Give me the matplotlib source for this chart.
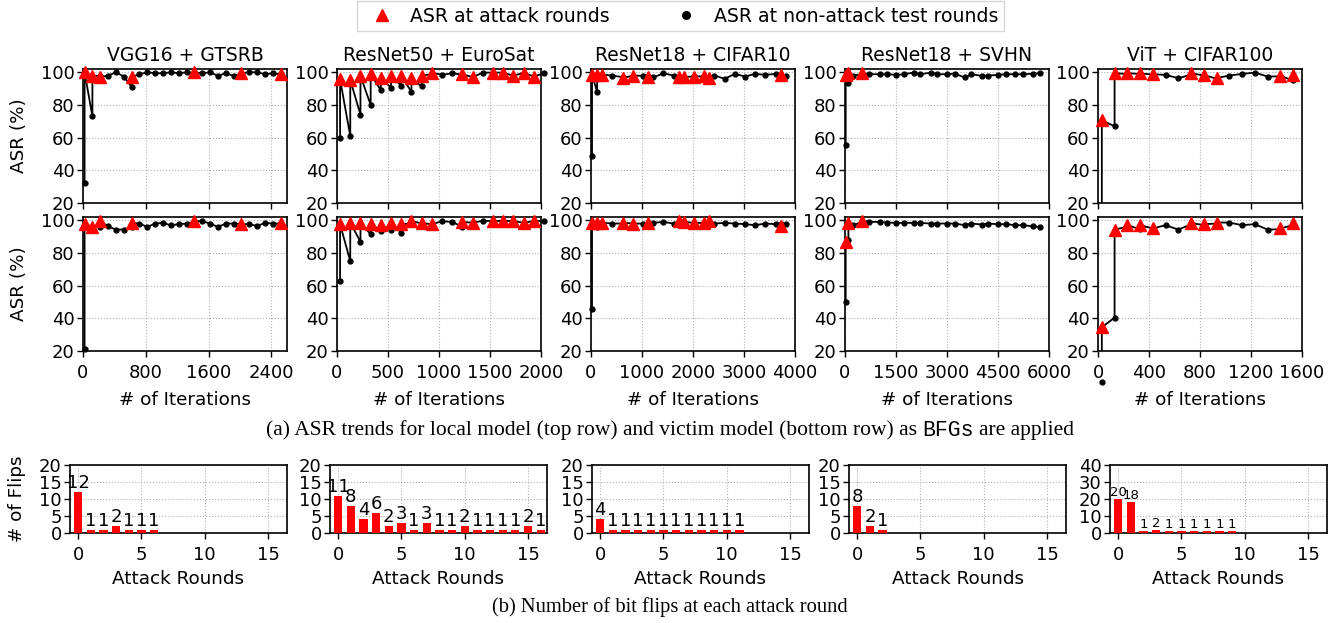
import matplotlib
matplotlib.use('Agg')
import matplotlib.pyplot as plt
from matplotlib.lines import Line2D

# ---- ASR curves (pre-attack / test-round values and post-attack values) ----
vgg_iters = [20, 120, 220, 320, 420, 520, 620, 720, 820, 920, 1020, 1120, 1220, 1320, 1420, 1520,
             1620, 1720, 1820, 1920, 2020, 2120, 2220, 2320, 2420, 2520]
vgg_local = [32, 73, 97.5, 98, 100, 97.4, 91, 98.8, 100, 99.4, 99.4, 100, 99.4, 100, 99.5, 99.4,
             100, 97.8, 99.4, 97.8, 99, 100, 100, 98.8, 99.4, 98.8]
vgg_victim = [21.2, 96, 95.9, 96.3, 94.3, 94.3, 95.9, 98, 95.9, 98, 98.4, 96.9, 97.6, 98, 99, 99.4,
              98, 95.9, 98, 98, 97.6, 97.6, 96.5, 98.4, 98, 98]
vgg_atk_iters = [20, 120, 220, 620, 1420, 2020, 2520]
vgg_atk_local = [100, 98, 97, 97, 100, 99.4, 99]
vgg_atk_victim = [97.6, 95.9, 99.4, 98.4, 99.6, 97.6, 98.4]

res50_iters = [30, 130, 230, 330, 430, 530, 630, 730, 830, 930, 1030, 1130, 1230, 1330, 1430,
               1530, 1630, 1730, 1830, 1930, 2030]
res50_local = [59.5, 61, 74, 80, 89, 90.6, 91.7, 88, 91.3, 99, 98.4, 99.4, 98.5, 97, 99.8,
               99.8, 99.8, 97.8, 99.8, 97.4, 99.4]
res50_victim = [63, 75, 86.8, 91.5, 93.5, 94.3, 92.5, 98, 98, 97.5, 99.4, 99, 95.9, 98.5, 99.6,
                99.6, 99.6, 99.6, 98.4, 99.6, 99.6]
res50_atk_iters = [30, 130, 230, 330, 430, 530, 630, 730, 830, 930, 1230, 1330, 1530, 1630, 1730,
                   1830, 1930]
res50_atk_local = [95.7, 95.3, 97.8, 98.8, 96.3, 97.8, 97.8, 96.3, 97.8, 99.8, 98.8, 97, 99.8,
                   99.8, 97.8, 99.8, 97.4]
res50_atk_victim = [97.6, 98.6, 98.4, 98, 97, 98.4, 97.6, 99.6, 98.4, 97.6, 99, 98.6, 99.6, 99.6,
                    99.6, 98.4, 99.6]

c10_iters = [20, 120, 220, 420, 620, 820, 1020, 1120, 1220, 1420, 1620, 1720, 1820, 2020, 2220,
             2320, 2420, 2620, 2820, 3020, 3220, 3420, 3620, 3720, 3820]
c10_local = [49, 88, 98, 98, 97, 98, 97.8, 97.5, 96.8, 99.4, 98, 97, 97, 97.5, 97.5,
             97, 98, 96, 99, 97.4, 99, 98.4, 99, 98.5, 98]
c10_victim = [45.7, 96, 98, 98, 98, 98, 98, 98, 98.4, 99, 98, 99, 99, 98.4, 98.4,
              99, 98, 98.4, 98, 97.6, 97, 98, 97.6, 97.6, 97.6]
c10_atk_iters = [20, 120, 220, 620, 820, 1120, 1720, 1820, 2020, 2220, 2320, 3720]
c10_atk_local = [98.5, 98.5, 98.5, 96.4, 98, 97.4, 97.4, 97, 97.4, 98, 96.4, 98.4]
c10_atk_victim = [98.5, 98.5, 98.5, 98.6, 98, 98.6, 99.6, 99, 98.4, 98.4, 99.4, 96.5]

svhn_iters = [20, 100, 230, 510, 720, 1020, 1230, 1510, 1730, 2020, 2220, 2520, 2710, 2990, 3230,
              3520, 3720, 4020, 4210, 4490, 4740, 5000, 5230, 5530, 5740]
svhn_local = [55.6, 93.7, 97.8, 99, 98.8, 98.8, 98.8, 98.4, 98.8, 99.8, 98.8, 99.8, 98.8, 98.8, 99.2,
              96.8, 98.8, 97.8, 98, 98.4, 98.8, 98.8, 98.8, 99.2, 99.4]
svhn_victim = [49.7, 88, 97, 99, 99, 99, 98.6, 98.4, 98.4, 98.4, 98.4, 98, 98, 98, 98,
               97, 98, 97.4, 98, 97.6, 97.6, 97, 97, 96.3, 95.9]
svhn_atk_iters = [20, 100, 510]
svhn_atk_local = [98.4, 99.8, 99.4]
svhn_atk_victim = [86.8, 98.4, 99.6]

vit_iters = [30, 130, 230, 330, 430, 530, 630, 730, 830, 930, 1030, 1130, 1230, 1330, 1430, 1530]
vit_local = [1, 67, 99, 99, 98.5, 98.4, 96.4, 98.5, 98, 96, 98, 99, 99.8, 97.4, 97.5, 95]
vit_victim = [1, 40.4, 96, 94.5, 95, 97, 94.3, 97.5, 97, 98, 98.6, 97, 97.6, 94.3, 94.5, 97]
vit_atk_iters = [30, 130, 230, 330, 430, 730, 830, 930, 1430, 1530]
vit_atk_local = [70.5, 99.4, 99.4, 99.4, 98.8, 99.4, 98.4, 96.4, 97.8, 98.4]
vit_atk_victim = [34.5, 94.3, 97, 97, 95, 98.4, 97.6, 98.6, 95, 98.4]

titles = ['VGG16 + GTSRB', 'ResNet50 + EuroSat', 'ResNet18 + CIFAR10', 'ResNet18 + SVHN', 'ViT + CIFAR100']
xmax = [2600, 2000, 4000, 6000, 1600]
xticks = [[0, 800, 1600, 2400], [0, 500, 1000, 1500, 2000], [0, 1000, 2000, 3000, 4000],
          [0, 1500, 3000, 4500, 6000], [0, 400, 800, 1200, 1600]]

# ---- number of bit flips per attack round ----
flips_vgg = [12, 1, 1, 2, 1, 1, 1]
flips_res50 = [11, 8, 4, 6, 2, 3, 1, 3, 1, 1, 2, 1, 1, 1, 1, 2, 1]
flips_c10 = [4, 1, 1, 1, 1, 1, 1, 1, 1, 1, 1, 1]
flips_svhn = [8, 2, 1]
flips_vit = [20, 18, 1, 2, 1, 1, 1, 1, 1, 1]
flips_ymax = [20, 20, 20, 20, 40]

runs = [
    (vgg_iters, vgg_local, vgg_victim, vgg_atk_iters, vgg_atk_local, vgg_atk_victim),
    (res50_iters, res50_local, res50_victim, res50_atk_iters, res50_atk_local, res50_atk_victim),
    (c10_iters, c10_local, c10_victim, c10_atk_iters, c10_atk_local, c10_atk_victim),
    (svhn_iters, svhn_local, svhn_victim, svhn_atk_iters, svhn_atk_local, svhn_atk_victim),
    (vit_iters, vit_local, vit_victim, vit_atk_iters, vit_atk_local, vit_atk_victim),
]
flips = [flips_vgg, flips_res50, flips_c10, flips_svhn, flips_vit]

FS = 13          # tick labels
LFS = 13.2       # axis labels
plt.rcParams['font.family'] = 'DejaVu Sans'
plt.rcParams['font.size'] = FS


def build_seq(iters, vals, atk_iters, atk_vals):
    # test value first, then the value right after the attack at the same iteration
    atk = dict(zip(atk_iters, atk_vals))
    xs, ys = [], []
    for it, v in zip(iters, vals):
        xs.append(it)
        ys.append(v)
        if it in atk:
            xs.append(it)
            ys.append(atk[it])
    return xs, ys


def style(ax):
    ax.grid(True, linestyle=':', color='#b0b0b0', linewidth=0.8)
    ax.set_axisbelow(True)
    for s in ax.spines.values():
        s.set_linewidth(1.2)
    ax.tick_params(labelsize=FS, length=4, width=1, pad=2)
    ax.tick_params(axis='x', pad=5)


fig = plt.figure(figsize=(13.4, 6.23), dpi=100)
W, H = 1340, 623

line_lefts = [83, 337, 591, 845, 1098]
row_tops = [69, 217]
for c in range(5):
    it, loc, vic, a_it, a_loc, a_vic = runs[c]
    for r, (vals, avals) in enumerate([(loc, a_loc), (vic, a_vic)]):
        top = row_tops[r]
        ax = fig.add_axes([line_lefts[c] / W, 1 - (top + 134) / H, 204 / W, 134 / H])
        style(ax)
        xs, ys = build_seq(it, vals, a_it, avals)
        ax.plot(xs, ys, '-', color='black', linewidth=1.3, zorder=3)
        ax.plot(it, vals, 'o', color='black', markersize=3.5, clip_on=False, zorder=4)
        ax.plot(a_it, avals, '^', color='red', markersize=8.5, clip_on=False, zorder=5)
        ax.set_xlim(0, xmax[c])
        ax.set_ylim(20, 102)
        ax.set_yticks([20, 40, 60, 80, 100])
        ax.set_xticks(xticks[c])
        if r == 0:
            ax.set_title(titles[c], fontsize=13.5, pad=6)
            ax.tick_params(labelbottom=False)
        else:
            ax.set_xlabel('# of Iterations', fontsize=LFS, labelpad=7)
        if c == 0:
            ax.set_ylabel('ASR (%)', fontsize=LFS, labelpad=9)

bar_lefts = [70, 330, 592, 849, 1110]
for c in range(5):
    ax = fig.add_axes([bar_lefts[c] / W, 1 - 533 / H, 217 / W, 68 / H])
    style(ax)
    vals = flips[c]
    rounds = list(range(len(vals)))
    ax.bar(rounds, vals, width=0.65, color='red', zorder=3)
    lab_fs = 9.5 if c == 4 else 13
    for x, v in zip(rounds, vals):
        ax.text(x, v, str(v), ha='center', va='bottom', fontsize=lab_fs)
    ax.set_xlim(-0.65, 16.5)
    ax.set_ylim(0, flips_ymax[c])
    ax.set_xticks([0, 5, 10, 15])
    if c == 4:
        ax.set_yticks([0, 10, 20, 30, 40])
    else:
        ax.set_yticks([0, 5, 10, 15, 20])
    ax.set_xlabel('Attack Rounds', fontsize=LFS, labelpad=5)
    if c == 0:
        ax.set_ylabel('# of Flips', fontsize=LFS, labelpad=9)

handles = [Line2D([], [], linestyle='none', marker='^', color='red', markersize=9),
           Line2D([], [], linestyle='none', marker='o', color='black', markersize=5.5)]
fig.legend(handles, ['ASR at attack rounds', 'ASR at non-attack test rounds'],
           loc='upper center', bbox_to_anchor=(0.508, 1.0), ncol=2, fontsize=13.6,
           frameon=True, fancybox=False, edgecolor='#cccccc', handletextpad=0.5,
           columnspacing=3.0, borderpad=0.3, borderaxespad=0.05)


def caption(y_px, parts, size):
    fig.canvas.draw()
    rend = fig.canvas.get_renderer()
    texts = []
    for s, fam in parts:
        texts.append(fig.text(0, 1 - y_px / H, s, family=fam, fontsize=size, va='center'))
    probe = fig.text(0, 0, 'a a', family='Liberation Serif', fontsize=size)
    probe2 = fig.text(0, 0, 'aa', family='Liberation Serif', fontsize=size)
    gap = probe.get_window_extent(rend).width - probe2.get_window_extent(rend).width
    probe.remove()
    probe2.remove()
    widths = [t.get_window_extent(rend).width for t in texts]
    total = sum(widths) + gap * (len(texts) - 1)
    x = W / 2 - total / 2
    for t, w in zip(texts, widths):
        t.set_x(x / W)
        x += w + gap


caption(430, [('(a) ASR trends for local model (top row) and victim model (bottom row) as', 'Liberation Serif'),
              ('BFGs', 'Liberation Mono'),
              ('are applied', 'Liberation Serif')], 15.5)
caption(607, [('(b) Number of bit flips at each attack round', 'Liberation Serif')], 14.8)

fig.savefig('out.png', dpi=100)
